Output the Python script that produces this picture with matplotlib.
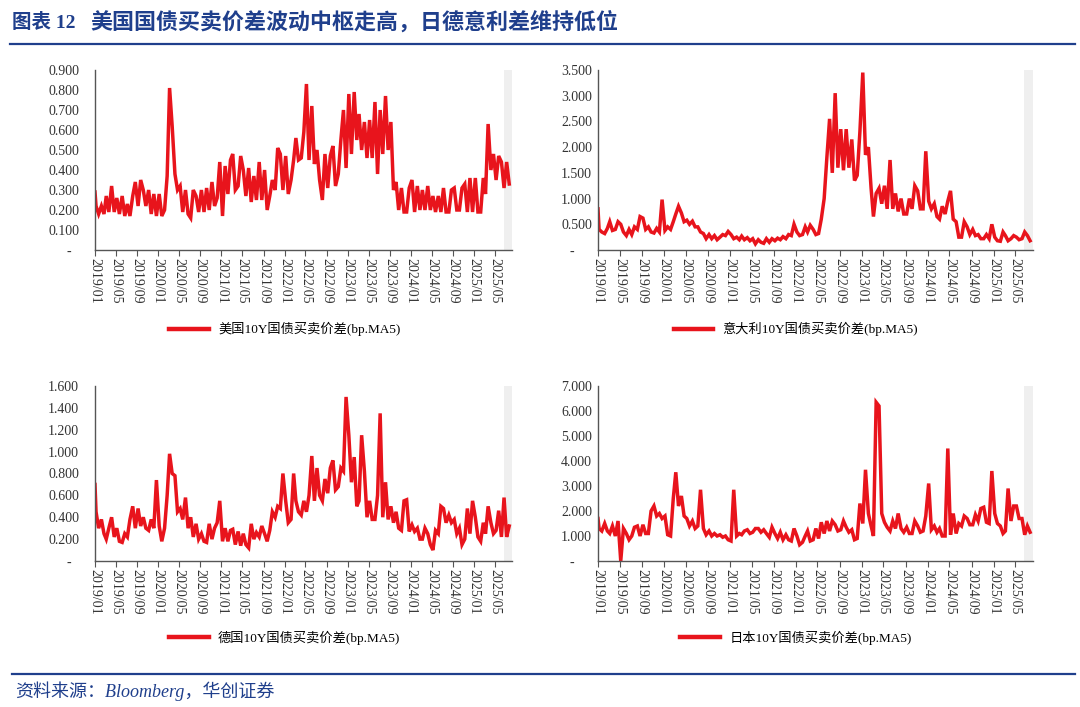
import matplotlib
matplotlib.use("Agg")
import matplotlib.pyplot as plt
import matplotlib.dates as mdates
from matplotlib.ticker import FuncFormatter, MultipleLocator
import pandas as pd

# ---- data: two readings per month (first half / second half), 2019/01 .. 2025/07 ----
start_date = "2019-01-01"
n_months = 79

us_start = 0.29
us_early = [0.22, 0.22, 0.27, 0.32, 0.26, 0.27, 0.23, 0.27, 0.22, 0.30, 0.30, 0.28,
            0.28, 0.20, 0.81, 0.38, 0.32, 0.30, 0.16, 0.27, 0.30, 0.31, 0.34, 0.26,
            0.17, 0.28, 0.48, 0.32, 0.40, 0.41, 0.37, 0.44, 0.40, 0.27, 0.30, 0.48,
            0.47, 0.35, 0.56, 0.46, 0.83, 0.72, 0.50, 0.25, 0.31, 0.52, 0.38, 0.70,
            0.78, 0.79, 0.68, 0.64, 0.65, 0.74, 0.70, 0.77, 0.64, 0.34, 0.31, 0.19,
            0.35, 0.32, 0.30, 0.32, 0.27, 0.27, 0.31, 0.19, 0.31, 0.20, 0.33, 0.36,
            0.36, 0.19, 0.28, 0.40, 0.35, 0.44, 0.44]
us_late = [0.18, 0.18, 0.19, 0.19, 0.18, 0.17, 0.17, 0.34, 0.35, 0.22, 0.18, 0.17,
           0.17, 0.37, 0.62, 0.30, 0.19, 0.18, 0.30, 0.19, 0.19, 0.20, 0.22, 0.44,
           0.42, 0.45, 0.30, 0.47, 0.27, 0.24, 0.25, 0.25, 0.20, 0.35, 0.51, 0.30,
           0.28, 0.45, 0.45, 0.59, 0.45, 0.43, 0.35, 0.48, 0.47, 0.32, 0.55, 0.41,
           0.48, 0.55, 0.50, 0.46, 0.46, 0.38, 0.48, 0.50, 0.30, 0.20, 0.19, 0.31,
           0.19, 0.20, 0.20, 0.20, 0.19, 0.19, 0.19, 0.30, 0.20, 0.31, 0.19, 0.19,
           0.19, 0.36, 0.63, 0.48, 0.47, 0.31, 0.33]

it_start = 0.80
it_early = [0.40, 0.32, 0.55, 0.40, 0.50, 0.28, 0.30, 0.40, 0.62, 0.45, 0.33, 0.35,
            0.38, 0.40, 0.70, 0.72, 0.58, 0.56, 0.45, 0.32, 0.30, 0.28, 0.25, 0.28,
            0.30, 0.25, 0.27, 0.24, 0.22, 0.20, 0.13, 0.15, 0.18, 0.20, 0.22, 0.28,
            0.35, 0.30, 0.35, 0.40, 0.32, 1.00, 2.55, 3.05, 2.35, 2.35, 2.15, 1.45,
            3.45, 2.00, 0.65, 1.20, 1.25, 1.75, 1.10, 1.00, 0.70, 0.80, 1.15, 0.80,
            0.95, 0.90, 0.60, 0.70, 1.15, 0.55, 0.25, 0.45, 0.40, 0.30, 0.22, 0.22,
            0.25, 0.17, 0.28, 0.22, 0.25, 0.22, 0.28]
it_late = [0.35, 0.42, 0.38, 0.55, 0.35, 0.40, 0.45, 0.65, 0.40, 0.35, 0.42, 0.98,
           0.45, 0.55, 0.85, 0.55, 0.50, 0.45, 0.35, 0.22, 0.22, 0.20, 0.30, 0.36,
           0.22, 0.20, 0.20, 0.18, 0.12, 0.15, 0.22, 0.22, 0.23, 0.26, 0.30, 0.50,
           0.28, 0.45, 0.48, 0.30, 0.60, 1.80, 1.50, 1.60, 1.55, 1.60, 1.35, 2.30,
           1.85, 1.20, 1.10, 0.90, 0.80, 0.80, 0.75, 0.70, 1.00, 1.25, 0.80, 1.92,
           0.80, 0.65, 0.85, 0.95, 0.60, 0.25, 0.55, 0.30, 0.28, 0.22, 0.30, 0.50,
           0.18, 0.35, 0.18, 0.28, 0.20, 0.35, 0.18]

de_start = 0.70
de_early = [0.45, 0.38, 0.20, 0.40, 0.30, 0.17, 0.22, 0.50, 0.48, 0.40, 0.28, 0.30,
            0.32, 0.30, 0.98, 0.78, 0.48, 0.58, 0.40, 0.34, 0.25, 0.17, 0.20, 0.35,
            0.18, 0.18, 0.29, 0.27, 0.25, 0.12, 0.20, 0.22, 0.25, 0.28, 0.40, 0.48,
            0.55, 0.38, 0.55, 0.42, 0.45, 0.96, 0.85, 0.55, 0.62, 0.92, 0.68, 0.82,
            1.15, 0.95, 0.55, 0.82, 0.55, 0.38, 1.35, 0.72, 0.50, 0.45, 0.28, 0.56,
            0.33, 0.30, 0.20, 0.25, 0.10, 0.25, 0.48, 0.42, 0.38, 0.30, 0.20, 0.25,
            0.40, 0.18, 0.25, 0.35, 0.28, 0.22, 0.22]
de_late = [0.30, 0.25, 0.30, 0.22, 0.18, 0.25, 0.38, 0.30, 0.32, 0.30, 0.38, 0.74,
           0.18, 0.60, 0.80, 0.45, 0.38, 0.30, 0.22, 0.20, 0.18, 0.34, 0.30, 0.55,
           0.30, 0.28, 0.15, 0.14, 0.15, 0.34, 0.26, 0.32, 0.18, 0.45, 0.50, 0.80,
           0.35, 0.80, 0.45, 0.55, 0.60, 0.55, 0.60, 0.75, 0.85, 0.65, 0.85, 1.50,
           0.72, 0.50, 1.15, 0.40, 0.38, 0.60, 0.40, 0.38, 0.35, 0.30, 0.55, 0.27,
           0.27, 0.20, 0.30, 0.15, 0.28, 0.50, 0.35, 0.35, 0.25, 0.15, 0.48, 0.55,
           0.22, 0.35, 0.50, 0.25, 0.46, 0.58, 0.32]

jp_start = 1.70
jp_early = [1.30, 1.50, 1.10, 1.00, 0.00, 1.10, 1.00, 1.40, 1.45, 1.10, 2.20, 1.90,
            1.80, 1.00, 3.55, 2.60, 1.70, 1.60, 1.40, 1.30, 1.20, 1.10, 1.05, 1.00,
            0.80, 1.00, 1.05, 1.25, 1.15, 1.30, 1.25, 0.95, 1.10, 1.15, 1.05, 0.80,
            1.00, 0.75, 1.20, 0.85, 0.90, 1.10, 1.20, 1.45, 1.25, 1.35, 1.25, 0.90,
            1.50, 1.90, 1.00, 6.20, 1.55, 1.20, 1.30, 1.30, 1.35, 1.10, 1.40, 1.20,
            3.10, 1.40, 1.30, 1.00, 1.05, 1.10, 1.40, 1.70, 1.45, 1.60, 2.15, 1.50,
            1.90, 1.40, 1.20, 1.60, 2.20, 1.70, 1.40]
jp_late = [1.20, 1.20, 1.40, 1.60, 1.30, 0.85, 1.35, 1.00, 1.10, 2.00, 1.80, 1.70,
           1.05, 2.50, 2.20, 1.80, 1.40, 1.30, 2.85, 1.05, 1.00, 1.00, 0.95, 0.85,
           2.85, 1.10, 1.20, 1.10, 1.30, 1.15, 1.10, 1.35, 0.90, 0.85, 0.85, 1.30,
           0.65, 1.00, 0.80, 1.30, 1.55, 1.60, 1.60, 1.20, 1.60, 1.15, 0.85, 2.30,
           3.65, 1.40, 6.35, 1.90, 1.35, 1.60, 1.90, 1.15, 1.10, 1.60, 1.15, 1.80,
           1.25, 1.15, 1.00, 4.50, 1.90, 1.50, 1.80, 1.45, 1.85, 2.10, 1.55, 3.60,
           1.50, 1.10, 2.90, 2.20, 1.70, 1.05, 1.15]

panels = [
    ("美国10Y国债买卖价差(bp.MA5)", us_start, us_early, us_late, 0.9, 0.1),
    ("意大利10Y国债买卖价差(bp.MA5)", it_start, it_early, it_late, 3.5, 0.5),
    ("德国10Y国债买卖价差(bp.MA5)", de_start, de_early, de_late, 1.6, 0.2),
    ("日本10Y国债买卖价差(bp.MA5)", jp_start, jp_early, jp_late, 7.0, 1.0),
]

RED = "#e8141c"
BLUE = "#1f3f8c"
MIX = ["Liberation Serif", "Noto Sans CJK SC"]


def series(start_val, early, late):
    months = pd.date_range(start_date, periods=n_months, freq="MS")
    dates, vals = [pd.Timestamp(start_date)], [start_val]
    for m, a, b in zip(months, early, late):
        dates += [m + pd.Timedelta(days=6), m + pd.Timedelta(days=21)]
        vals += [a, b]
    return dates, vals


fig = plt.figure(figsize=(10.8, 7.07), dpi=100)

W, H = 1080, 707
boxes = [(95, 70, 512, 250), (598, 70, 1033, 250),
         (95, 386, 512, 561), (598, 386, 1033, 561)]
# left panels have a wider gap between labels and axis (points)
ypads = [11.5, 4.3, 11.5, 4.3]
dashes = ["-  ", "-     ", "-  ", "-     "]

for (label, s0, early, late, ymax, step), (x0, y0, x1, y1), pad, dash in zip(
        panels, boxes, ypads, dashes):
    ax = fig.add_axes([x0 / W, 1 - y1 / H, (x1 - x0) / W, (y1 - y0) / H])
    d, v = series(s0, early, late)
    ax.axvspan(pd.Timestamp("2025-06-20"), pd.Timestamp("2025-08-07"),
               color="#efefef", lw=0, zorder=0)
    ax.plot(d, v, color=RED, lw=2.5, label=label, solid_joinstyle="miter")

    ax.set_xlim(pd.Timestamp("2019-01-01"), pd.Timestamp("2025-08-07"))
    ax.set_ylim(0, ymax)
    ax.yaxis.set_major_locator(MultipleLocator(step))
    ax.yaxis.set_major_formatter(FuncFormatter(
        lambda t, p, dash=dash: dash if abs(t) < 1e-9 else f"{t:.3f}"))
    ax.xaxis.set_major_locator(mdates.MonthLocator(bymonth=[1, 5, 9]))
    ax.xaxis.set_major_formatter(mdates.DateFormatter("%Y/%m"))

    for sp in ("top", "right"):
        ax.spines[sp].set_visible(False)
    for sp in ("left", "bottom"):
        ax.spines[sp].set_color("#555555")
        ax.spines[sp].set_linewidth(1.0)
    ax.tick_params(axis="y", length=0, pad=pad)
    ax.tick_params(axis="x", length=4, width=0.8, color="#555555", pad=2)
    for t in ax.get_yticklabels():
        t.set_fontfamily("Liberation Serif")
        t.set_fontsize(10)
        t.set_color("#333333")
    for t in ax.get_xticklabels():
        t.set_fontfamily("Liberation Serif")
        t.set_fontsize(10)
        t.set_color("#333333")
        t.set_rotation(-90)
        t.set_ha("center")
        t.set_va("top")

    leg = ax.legend(loc="center", bbox_to_anchor=(0.455, -0.44), frameon=False,
                    handlelength=3.0, handletextpad=0.7,
                    prop={"family": MIX, "size": 9.5})
    for ln in leg.get_lines():
        ln.set_linewidth(3.2)

# header / footer
fig.text(12 / W, 1 - 22 / H, "图表 12", family=MIX, weight="bold",
         fontsize=14, color=BLUE, va="center", ha="left")
fig.text(90 / W, 1 - 22 / H, "美国国债买卖价差波动中枢走高，日德意利差维持低位",
         family=MIX, weight="bold", fontsize=15.8, color=BLUE, va="center", ha="left")
fig.add_artist(plt.Line2D([10 / W, 1075 / W], [1 - 44 / H, 1 - 44 / H],
                          color=BLUE, lw=1.6))
fig.add_artist(plt.Line2D([12 / W, 1075 / W], [1 - 674 / H, 1 - 674 / H],
                          color=BLUE, lw=1.6))
fig.text(15 / W, 1 - 691 / H, "资料来源：Bloomberg，华创证券", family=MIX,
         style="italic", fontsize=13, color=BLUE, va="center", ha="left")

fig.savefig("out.png", dpi=100)
